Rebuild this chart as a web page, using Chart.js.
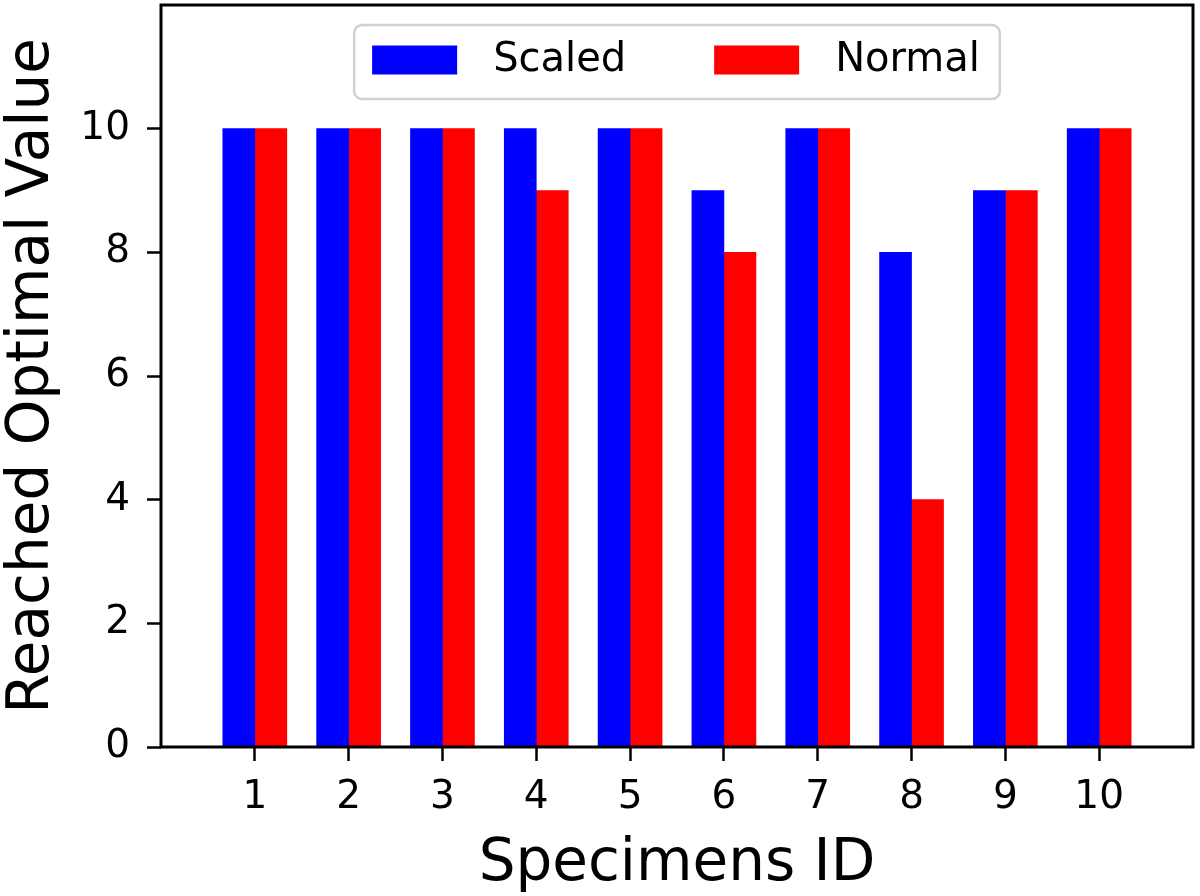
<!DOCTYPE html>
<html>
<head>
  <title>Reached Optimal Value per Specimen</title>
  <script src="https://cdn.jsdelivr.net/npm/chart.js"></script>
  <style>
    body { margin: 0; background: #fff; }
  </style>
</head>
<body>

  <canvas id="barChart" width="1200" height="896"></canvas>

  <script>
    const specimenIds = [1, 2, 3, 4, 5, 6, 7, 8, 9, 10];
    const scaledValues = [10, 10, 10, 10, 10, 9, 10, 8, 9, 10];
    const normalValues = [10, 10, 10, 9, 10, 8, 10, 4, 9, 10];
    const yTickValues = [0, 2, 4, 6, 8, 10];

    Chart.defaults.font.family = '"DejaVu Sans", sans-serif';
    Chart.defaults.color = "#000";

    // legend box inside the plot, like the matplotlib one
    const legendBox = {
      id: "legendBox",
      afterDraw(chart) {
        const { ctx, chartArea } = chart;
        ctx.save();
        ctx.font = '40px "DejaVu Sans"';
        const items = chart.data.datasets.map(ds => ({
          label: ds.label,
          color: ds.backgroundColor,
          w: ctx.measureText(ds.label).width
        }));
        const padL = 18, padR = 20, sw = 85, sh = 29, gap = 36, itemGap = 88, h = 74;
        const width = padL + padR + items.reduce((a, it) => a + sw + gap + it.w, 0) + itemGap * (items.length - 1);
        const x0 = (chartArea.left + chartArea.right) / 2 - width / 2;
        const y0 = chartArea.top + 20;

        ctx.beginPath();
        ctx.roundRect(x0, y0, width, h, 8);
        ctx.fillStyle = "rgba(255,255,255,0.8)";
        ctx.fill();
        ctx.strokeStyle = "#d0d0d0";
        ctx.lineWidth = 2.5;
        ctx.stroke();

        let x = x0 + padL;
        const cy = y0 + h / 2 - 2;
        ctx.textBaseline = "middle";
        ctx.textAlign = "left";
        items.forEach(it => {
          ctx.fillStyle = it.color;
          ctx.fillRect(x, cy - sh / 2, sw, sh);
          x += sw + gap;
          ctx.fillStyle = "#000";
          ctx.fillText(it.label, x, cy + 1);
          x += it.w + itemGap;
        });
        ctx.restore();
      }
    };

    // full black frame on top of the bars
    const frameBox = {
      id: "frameBox",
      afterDatasetsDraw(chart) {
        const { ctx, chartArea } = chart;
        ctx.save();
        ctx.strokeStyle = "#000";
        ctx.lineWidth = 3;
        ctx.strokeRect(chartArea.left, chartArea.top, chartArea.right - chartArea.left, chartArea.bottom - chartArea.top);
        ctx.restore();
      }
    };

    const ctx = document.getElementById("barChart").getContext("2d");

    new Chart(ctx, {
      type: "bar",
      data: {
        datasets: [
          {
            label: "Scaled",
            data: specimenIds.map((id, i) => ({ x: id, y: scaledValues[i] })),
            backgroundColor: "#0000ff",
            barThickness: 32
          },
          {
            label: "Normal",
            data: specimenIds.map((id, i) => ({ x: id, y: normalValues[i] })),
            backgroundColor: "#ff0000",
            barThickness: 32
          }
        ]
      },
      options: {
        responsive: false,
        maintainAspectRatio: false,
        animation: false,
        layout: { padding: { top: 5, right: 7, left: 0, bottom: 0 } },
        plugins: {
          legend: { display: false },
          tooltip: { enabled: false }
        },
        scales: {
          x: {
            type: "linear",
            min: 0,
            max: 11,
            offset: false,
            afterBuildTicks: s => { s.ticks = specimenIds.map(v => ({ value: v })); },
            afterFit: s => { s.height = 149; s.paddingLeft = 0; s.paddingRight = 0; },
            border: { display: false },
            grid: { offset: false, drawOnChartArea: false, drawTicks: true, tickLength: 14, tickWidth: 2.5, tickColor: "#000" },
            ticks: { font: { size: 39 }, padding: 13, autoSkip: false, maxRotation: 0 },
            title: {
              display: true,
              text: "Specimens ID",
              font: { size: 58, lineHeight: 1 },
              padding: { top: 0, bottom: 2 }
            }
          },
          y: {
            min: 0,
            max: 12,
            afterBuildTicks: s => { s.ticks = yTickValues.map(v => ({ value: v })); },
            afterFit: s => { s.width = 161; s.paddingTop = 0; s.paddingBottom = 0; },
            border: { display: false },
            grid: { drawOnChartArea: false, drawTicks: true, tickLength: 14, tickWidth: 2.5, tickColor: "#000" },
            ticks: { font: { size: 39 }, padding: 17 },
            title: {
              display: true,
              text: "Reached Optimal Value",
              font: { size: 58, lineHeight: 1 },
              padding: { top: 4, bottom: 0 }
            }
          }
        }
      },
      plugins: [legendBox, frameBox]
    });
  </script>
</body>
</html>
